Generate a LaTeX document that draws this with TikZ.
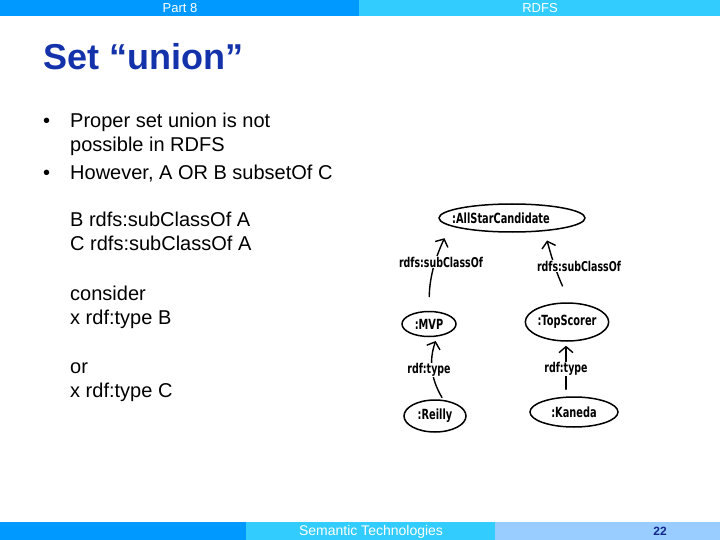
\documentclass[tikz,border=0pt]{standalone}
\usepackage{fontspec}
\setmainfont{Liberation Sans}
\newfontfamily\handfont{DejaVu Sans}[FakeStretch=0.7]
\usetikzlibrary{shapes.geometric,arrows.meta}
\definecolor{barblue}{RGB}{0,153,255}
\definecolor{barcyan}{RGB}{51,204,255}
\definecolor{barlight}{RGB}{153,204,255}
\definecolor{titleblue}{RGB}{20,50,170}
\definecolor{numblue}{RGB}{20,40,140}
\tikzset{
  bodytext/.style={anchor=base west, inner sep=0pt, font=\fontsize{20}{24}\selectfont},
  cls/.style={ellipse, draw, line width=1.5pt, inner sep=0pt, font=\handfont\bfseries\fontsize{14}{16}\selectfont},
  rel/.style={fill=white, inner sep=0.5pt, font=\handfont\bfseries\fontsize{13.5}{16}\selectfont},
  arr/.style={line width=1.4pt, line cap=round, -{Straight Barb[length=6pt,width=14pt,line width=1.4pt]}},
  bartext/.style={text=white, inner sep=0pt, font=\fontsize{13}{15}\selectfont}
}
\begin{document}
\begin{tikzpicture}[x=1pt,y=-1pt]
\useasboundingbox (0,0) rectangle (720,540);
\fill[white] (0,0) rectangle (720,540);
% header
\fill[barblue] (0,0) rectangle (359,16);
\fill[barcyan] (359,0) rectangle (720,16);
\node[bartext] (hpart) at (180,8) {Part 8};
\node[bartext] (hrdfs) at (540,8) {RDFS};
% footer
\fill[barblue] (0,522) rectangle (246,540);
\fill[barcyan] (246,522) rectangle (495,540);
\fill[barlight] (495,522) rectangle (720,540);
\node[bartext, font=\fontsize{14}{16}\selectfont] (fsem) at (371,532) {Semantic Technologies};
\node[inner sep=0pt, text=numblue, font=\bfseries\fontsize{12}{14}\selectfont] (fnum) at (660,531) {22};
% title
\node[anchor=base west, inner sep=0pt, text=titleblue, font=\bfseries\fontsize{36}{40}\selectfont] (title) at (43,70) {Set “union”};
% bullets
\node[bodytext] (b1) at (43,128) {•};
\node[bodytext] (b2) at (43,180) {•};
\node[bodytext] (t1) at (70,128) {Proper set union is not};
\node[bodytext] (t2) at (70,152) {possible in RDFS};
\node[bodytext] (t3) at (70,180) {However, A OR B subsetOf C};
\node[bodytext] (t4) at (70,226) {B rdfs:subClassOf A};
\node[bodytext] (t5) at (70,251) {C rdfs:subClassOf A};
\node[bodytext] (t6) at (70,300) {consider};
\node[bodytext] (t7) at (70,324) {x rdf:type B};
\node[bodytext] (t8) at (70,373) {or};
\node[bodytext] (t9) at (70,397) {x rdf:type C};
% diagram
\node[cls, minimum width=146pt, minimum height=28pt] (A) at (512,218) {\hspace*{-22pt}:AllStarCandidate};
\node[cls, minimum width=54pt, minimum height=25pt] (MVP) at (429,324) {:MVP};
\node[cls, minimum width=82pt, minimum height=38pt] (TS) at (567,322) {:TopScorer};
\node[cls, minimum width=62pt, minimum height=32pt] (R) at (435,416) {:Reilly};
\node[cls, minimum width=88pt, minimum height=30pt] (K) at (574,412) {:Kaneda};
\draw[arr, shorten <=14pt, shorten >=6pt] (MVP.north) to[bend left=12] ([xshift=-65pt]A.south);
\draw[arr, shorten <=18pt, shorten >=8pt] ([xshift=3pt]TS.north) to[bend left=5] ([xshift=33pt]A.south);
\draw[arr, shorten <=2pt, shorten >=4pt] ([xshift=8pt]R.north) to[bend left=25] ([xshift=8pt]MVP.south);
\draw[arr, shorten <=7pt, shorten >=4pt] ([xshift=-8pt]K.north) -- ([xshift=-1pt]TS.south);
\node[rel] (l1) at (441,262) {rdfs:subClassOf};
\node[rel] (l2) at (579,266) {rdfs:subClassOf};
\node[rel] (l3) at (429,370) {rdf:type};
\node[rel] (l4) at (566,369) {rdf:type};
\end{tikzpicture}
\end{document}
